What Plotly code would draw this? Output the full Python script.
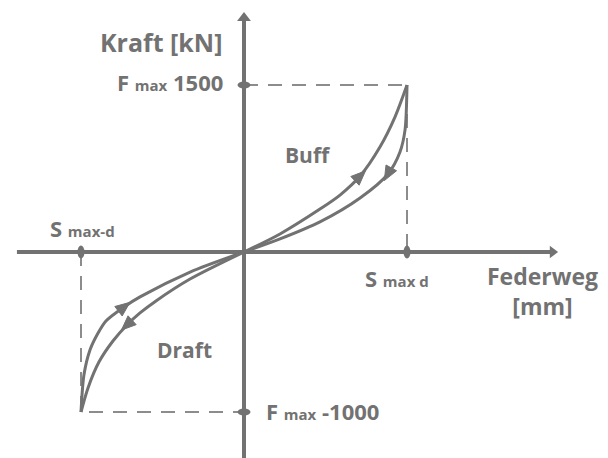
import math
import plotly.graph_objects as go

# ---- data (normalised schematic units: S max = 1, F max buff = 1) ----
buff_load_x = [0.0, 0.221, 0.466, 0.589, 0.712, 0.834, 0.926, 1.0]
buff_load_y = [0.0, 0.108, 0.257, 0.341, 0.455, 0.629, 0.808, 1.0]
buff_unload_x = [0.0, 0.221, 0.466, 0.712, 0.883, 0.957, 0.988, 1.0]
buff_unload_y = [0.0, 0.078, 0.180, 0.323, 0.467, 0.599, 0.731, 1.0]

draft_outer_x = [-1.0, -0.982, -0.945, -0.902, -0.847, -0.736, -0.638, -0.331, 0.0]
draft_outer_y = [-0.958, -0.737, -0.587, -0.497, -0.413, -0.329, -0.269, -0.120, 0.0]
draft_inner_x = [0.0, -0.331, -0.540, -0.638, -0.718, -0.804, -0.890, -0.957, -1.0]
draft_inner_y = [0.0, -0.162, -0.293, -0.365, -0.437, -0.533, -0.659, -0.814, -0.958]

# arrow heads on the curves: (previous point, arrow point)
arrows = [
    ([0.589, 0.712], [0.341, 0.455]),
    ([0.957, 0.883], [0.599, 0.467]),
    ([-0.847, -0.736], [-0.413, -0.329]),
    ([-0.638, -0.718], [-0.365, -0.437]),
]

s_max_pos, s_max_neg = 1.0, -1.0
f_max_pos, f_max_neg = 1.0, -0.958
x_axis_ext = [-1.393, 1.893]
y_axis_ext = [-1.24, 1.401]

tick_labels = {
    "kraft": "Kraft [kN]",
    "fpos": "F <span style='font-size:15px'>max</span> 1500",
    "fneg": "F <span style='font-size:15px'>max</span> -1000",
    "sneg": "S <span style='font-size:15px'>max-d</span>",
    "spos": "S <span style='font-size:15px'>max d</span>",
    "xaxis": "Federweg<br>[mm]",
}

GRAY = "#727272"
DASH = "#8c8c8c"
FONT = "Open Sans"
PX_X = 163.0  # pixels per x unit
PX_Y = 167.0  # pixels per y unit

fig = go.Figure()

# dashed guides
fig.add_trace(go.Scatter(x=[0, s_max_pos, s_max_pos], y=[f_max_pos, f_max_pos, 0],
                         mode="lines", line=dict(color=DASH, width=2, dash="14px,10px"),
                         hoverinfo="skip"))
fig.add_trace(go.Scatter(x=[s_max_neg, s_max_neg, 0], y=[0, f_max_neg, f_max_neg],
                         mode="lines", line=dict(color=DASH, width=2, dash="14px,10px"),
                         hoverinfo="skip"))

# axes
fig.add_trace(go.Scatter(x=x_axis_ext, y=[0, 0], mode="lines",
                         line=dict(color=GRAY, width=4), hoverinfo="skip"))
fig.add_trace(go.Scatter(x=[0, 0], y=y_axis_ext, mode="lines",
                         line=dict(color=GRAY, width=4), hoverinfo="skip"))
fig.add_trace(go.Scatter(x=[x_axis_ext[1]], y=[0], mode="markers",
                         marker=dict(symbol="triangle-right", size=11, color=GRAY),
                         hoverinfo="skip"))
fig.add_trace(go.Scatter(x=[0], y=[y_axis_ext[1]], mode="markers",
                         marker=dict(symbol="triangle-up", size=12, color=GRAY),
                         hoverinfo="skip"))

# curves
for xs, ys in [(buff_load_x, buff_load_y), (buff_unload_x, buff_unload_y),
               (draft_outer_x, draft_outer_y), (draft_inner_x, draft_inner_y)]:
    fig.add_trace(go.Scatter(x=xs, y=ys, mode="lines",
                             line=dict(color=GRAY, width=3, shape="spline", smoothing=0.8),
                             hoverinfo="skip"))

shapes = []

# arrow heads as filled paths oriented along the curve direction
L_FWD, L_BACK, HALF_W = 7.5, 7.0, 6.0
for ax_, ay_ in arrows:
    dxp = (ax_[1] - ax_[0]) * PX_X
    dyp = (ay_[1] - ay_[0]) * PX_Y
    n = math.hypot(dxp, dyp)
    ux, uy = dxp / n, dyp / n
    px_, py_ = -uy, ux
    cx, cy = ax_[1], ay_[1]
    tip = (cx + ux * L_FWD / PX_X, cy + uy * L_FWD / PX_Y)
    b1 = (cx - ux * L_BACK / PX_X + px_ * HALF_W / PX_X, cy - uy * L_BACK / PX_Y + py_ * HALF_W / PX_Y)
    b2 = (cx - ux * L_BACK / PX_X - px_ * HALF_W / PX_X, cy - uy * L_BACK / PX_Y - py_ * HALF_W / PX_Y)
    path = f"M {tip[0]},{tip[1]} L {b1[0]},{b1[1]} L {b2[0]},{b2[1]} Z"
    shapes.append(dict(type="path", xref="x", yref="y", path=path,
                       fillcolor=GRAY, line=dict(color=GRAY, width=1)))

# tick ellipses
for xv in [s_max_pos, s_max_neg]:
    shapes.append(dict(type="circle", xref="x", yref="y",
                       x0=xv - 3.5 / PX_X, x1=xv + 3.5 / PX_X,
                       y0=-6.5 / PX_Y, y1=6.5 / PX_Y,
                       fillcolor=GRAY, line=dict(width=0)))
for yv in [f_max_pos, f_max_neg]:
    shapes.append(dict(type="circle", xref="x", yref="y",
                       x0=-6.5 / PX_X, x1=6.5 / PX_X,
                       y0=yv - 3.5 / PX_Y, y1=yv + 3.5 / PX_Y,
                       fillcolor=GRAY, line=dict(width=0)))

def ann(text, x, y, size, xanchor="center", yanchor="middle"):
    return dict(text=text, x=x, y=y, xref="x", yref="y", showarrow=False,
                xanchor=xanchor, yanchor=yanchor,
                font=dict(family=FONT, size=size, color=GRAY, weight="bold"))

annotations = [
    ann(tick_labels["kraft"], -0.125, 1.257, 25, xanchor="right"),
    ann(tick_labels["fpos"], -0.115, 1.02, 22, xanchor="right"),
    ann(tick_labels["fneg"], 0.125, -0.955, 22, xanchor="left"),
    ann(tick_labels["sneg"], -1.205, 0.144, 22, xanchor="left"),
    ann(tick_labels["spos"], 0.728, -0.156, 22, xanchor="left"),
    ann("Buff", 0.393, 0.581, 21),
    ann("Draft", -0.368, -0.587, 21),
    ann(tick_labels["xaxis"], 1.830, -0.234, 23),
]

# the page body has an 8px margin: figure pixel = page pixel - 8
fig.update_layout(
    width=600, height=450, autosize=False,
    margin=dict(l=0, r=0, t=0, b=0),
    paper_bgcolor="white", plot_bgcolor="white",
    showlegend=False,
    xaxis=dict(range=[(8 - 244) / PX_X, (608 - 244) / PX_X], visible=False, fixedrange=True),
    yaxis=dict(range=[(252 - 458) / PX_Y, (252 - 8) / PX_Y], visible=False, fixedrange=True),
    shapes=shapes, annotations=annotations,
)

fig.write_html("out.html")
